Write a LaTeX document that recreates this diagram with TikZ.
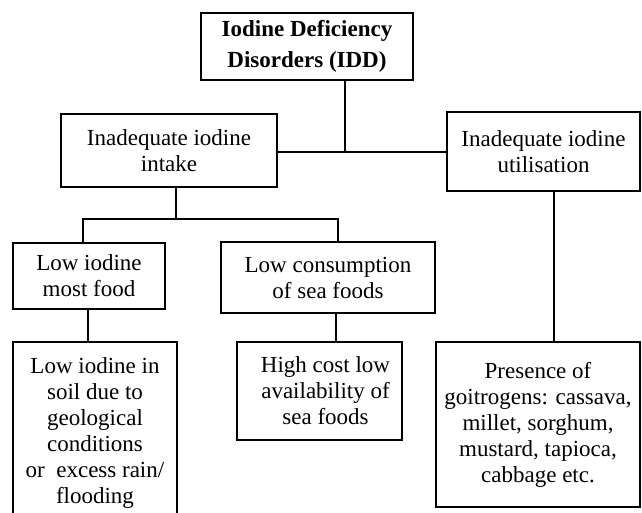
\documentclass[tikz,border=0pt]{standalone}
\usepackage{fontspec}
\setmainfont{Liberation Serif}
\begin{document}
\begin{tikzpicture}[x=1pt,y=-1pt,
  box/.style={draw, line width=1.2pt, inner sep=0pt, align=center,
    font=\fontsize{23}{26}\selectfont},
  topbox/.style={box, font=\fontsize{23}{31}\selectfont\bfseries},
  link/.style={line width=1.2pt}]
\useasboundingbox (0,0) rectangle (642,512);
% boxes
\node[topbox, minimum width=212pt, minimum height=67pt] (top) at (307,46.5) {Iodine Deficiency\\Disorders (IDD)};
\node[box, minimum width=216pt, minimum height=73pt] (b1) at (169,150.5) {Inadequate iodine\\intake};
\node[box, minimum width=193pt, minimum height=79pt] (b2) at (543.5,151.5) {Inadequate iodine\\utilisation};
\node[box, minimum width=152pt, minimum height=66pt] (b3) at (89,276) {Low iodine\\most food};
\node[box, minimum width=214pt, minimum height=71pt] (b4) at (328,277.5) {Low consumption\\of sea foods};
\node[box, minimum width=164pt, minimum height=181pt] (b5) at (95,432.5) {Low iodine in\\soil due to\\geological\\conditions\\or\ \ excess rain/\\flooding};
\node[box, minimum width=165pt, minimum height=98pt] (b6) at (319.5,391) {\hspace*{12pt}High cost low\\\hspace*{12pt}availability of\\\hspace*{12pt}sea foods};
\node[box, minimum width=204pt, minimum height=165pt] (b7) at (538,424.5) {Presence of\\goitrogens: cassava,\\millet, sorghum,\\mustard, tapioca,\\cabbage etc.};
% junctions
\coordinate (j1) at (345,152);
\coordinate (j2) at (176,219);
\coordinate (j3) at (83,219);
\coordinate (j4) at (338,219);
\coordinate (j5) at (88,330);
\coordinate (j6) at (336,330);
\coordinate (j7) at (554,270);
% connectors
\draw[link] (top.south -| j1) -- (j1);
\draw[link] (b1.east |- j1) -- (b2.west |- j1);
\draw[link] (b1.south -| j2) -- (j2);
\draw[link] (b3.north -| j3) -- (j3) -- (j4) -- (b4.north -| j4);
\draw[link] (b3.south -| j5) -- (b5.north -| j5);
\draw[link] (b4.south -| j6) -- (b6.north -| j6);
\draw[link] (b2.south -| j7) -- (b7.north -| j7);
\end{tikzpicture}
\end{document}
